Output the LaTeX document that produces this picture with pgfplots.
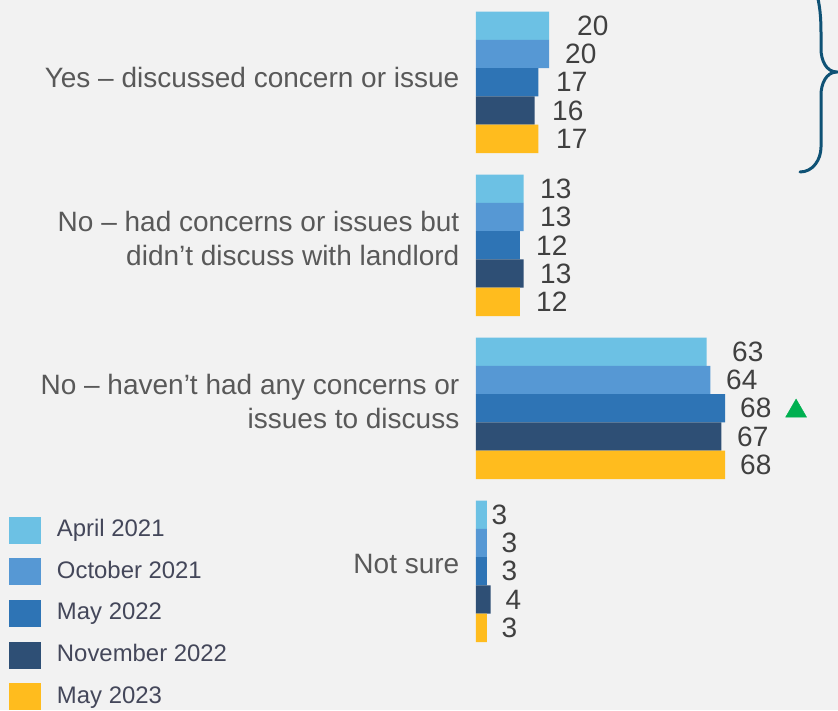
\documentclass[border=0pt]{standalone}
\usepackage{fontspec}
\setmainfont{Liberation Sans}
\usepackage{pgfplots}
\pgfplotsset{compat=1.18}
\usepackage{pgfplotstable}
\definecolor{bg}{HTML}{F2F2F2}
\definecolor{cA}{HTML}{6CC1E4}
\definecolor{cB}{HTML}{5698D4}
\definecolor{cC}{HTML}{2E74B5}
\definecolor{cD}{HTML}{2E4F75}
\definecolor{cE}{HTML}{FFBC1E}
\definecolor{txt}{HTML}{595959}
\definecolor{val}{HTML}{404040}
\definecolor{leg}{HTML}{44475A}
\definecolor{bracec}{HTML}{0F5275}
\definecolor{sig}{HTML}{00B050}

% columns: value, bar centre (px from top), label left edge (axis units)
\pgfplotstableread{
v y lx
20 25.65 27.58
13 188.65 17.48
63 351.65 69.91
3 514.65 4.23
}\tA
\pgfplotstableread{
v y lx
20 53.95 24.30
13 216.95 17.48
64 379.95 68.27
3 542.95 6.96
}\tB
\pgfplotstableread{
v y lx
17 82.25 21.85
12 245.25 16.38
68 408.25 72.09
3 571.25 6.96
}\tC
\pgfplotstableread{
v y lx
16 110.55 20.75
13 273.55 17.48
67 436.55 71.27
4 599.55 8.06
}\tD
\pgfplotstableread{
v y lx
17 138.85 21.85
12 301.85 16.38
68 464.85 72.09
3 627.85 6.96
}\tE

\pgfplotsset{
  sqlegend/.style={legend image code/.code={\fill[##1] (0pt,-9.5pt) rectangle (32pt,17.5pt);}},
  barstyle/.style={xbar, bar width=28.3, bar shift=0pt, draw=none, fill=#1, sqlegend},
  lblstyle/.style={draw=none, mark=none, forget plot, nodes near coords, point meta=explicit,
     nodes near coords align=horizontal,
     every node near coord/.append style={anchor=west, inner sep=0pt, text=val,
        font=\fontsize{28}{33}\selectfont}},
}

\begin{document}
\begin{tikzpicture}
\useasboundingbox (0,0) rectangle (838pt,710pt);
\fill[bg] (0,0) rectangle (838pt,710pt);
\begin{axis}[
  at={(476pt,710pt)}, anchor=north west,
  scale only axis, width=293pt, height=710pt,
  xmin=0, xmax=80, ymin=0, ymax=710, y dir=reverse,
  hide axis, clip=false,
  /pgf/number format/assume math mode=true,
  legend style={at={(axis description cs:-1.5939,0.27225)}, anchor=north west,
     draw=none, fill=none, inner sep=0pt, outer sep=0pt,
     font=\fontsize{23.9}{28}\selectfont, text=leg,
     row sep=14.6pt, column sep=16pt,
     nodes={inner sep=0pt, text height=0.72em, text depth=0.21em}},
  legend cell align=left,
]
\addplot[barstyle=cA] table[x=v,y=y]{\tA};
\addlegendentry{April 2021}
\addplot[barstyle=cB] table[x=v,y=y]{\tB};
\addlegendentry{October 2021}
\addplot[barstyle=cC] table[x=v,y=y]{\tC};
\addlegendentry{May 2022}
\addplot[barstyle=cD] table[x=v,y=y]{\tD};
\addlegendentry{November 2022}
\addplot[barstyle=cE] table[x=v,y=y]{\tE};
\addlegendentry{May 2023}

\addplot[lblstyle] table[x=lx,y=y,meta=v]{\tA};
\addplot[lblstyle] table[x=lx,y=y,meta=v]{\tB};
\addplot[lblstyle] table[x=lx,y=y,meta=v]{\tC};
\addplot[lblstyle] table[x=lx,y=y,meta=v]{\tD};
\addplot[lblstyle] table[x=lx,y=y,meta=v]{\tE};

% significance marker
\addplot[only marks, mark=triangle*, mark size=12.1pt, color=sig, forget plot] coordinates {(87.4,411.1)};

% category labels
\begin{scope}[every node/.style={anchor=base east, inner sep=0pt, text=txt,
   font=\fontsize{28}{33}\selectfont, xshift=-16.5pt}]
\node at (axis cs:0,87.7) {Yes – discussed concern or issue};
\node at (axis cs:0,231.7) {No – had concerns or issues but};
\node at (axis cs:0,265) {didn’t discuss with landlord};
\node at (axis cs:0,394.7) {No – haven’t had any concerns or};
\node at (axis cs:0,428) {issues to discuss};
\node at (axis cs:0,573.3) {Not sure};
\end{scope}
\end{axis}
\begin{scope}
\clip (0,0) rectangle (838pt,710pt);
\draw[bracec, line width=3pt, line cap=round]
  (800pt,538pt) to[out=0,in=-90] (821pt,563pt) -- (821pt,615pt)
  to[out=90,in=180] (837pt,638pt)
  to[out=180,in=-90] (821pt,661pt) -- (821pt,677pt)
  to[out=90,in=0] (790pt,740pt);
\end{scope}
\end{tikzpicture}
\end{document}
